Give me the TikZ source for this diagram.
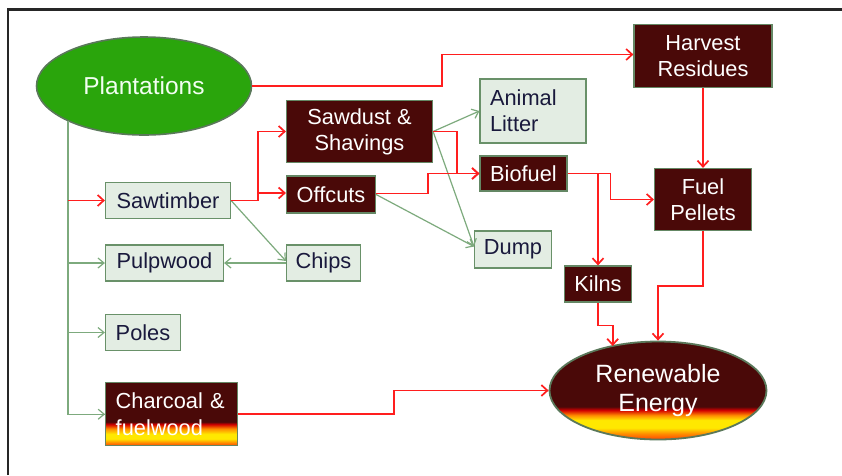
\documentclass[tikz,border=0pt]{standalone}
\usepackage{fontspec}
\setmainfont{Liberation Sans}
\usetikzlibrary{shapes.geometric,arrows.meta,calc}

\definecolor{maroon}{RGB}{74,9,8}
\definecolor{boxborder}{RGB}{100,135,100}
\definecolor{lightfill}{RGB}{227,237,227}
\definecolor{lightborder}{RGB}{105,145,105}
\definecolor{navytext}{RGB}{25,25,60}
\definecolor{plantgreen}{RGB}{42,165,12}
\definecolor{plantborder}{RGB}{90,120,90}
\definecolor{redline}{RGB}{255,30,30}
\definecolor{greenline}{RGB}{125,170,125}
\definecolor{fireDeep}{RGB}{210,0,0}
\definecolor{fireOrange}{RGB}{255,140,0}
\definecolor{fireYellow}{RGB}{255,232,0}
\definecolor{fireBottom}{RGB}{255,70,0}

\pgfdeclareverticalshading{fireCH}{100bp}{color(0bp)=(fireBottom); color(25bp)=(fireBottom); color(27.5bp)=(fireOrange); color(30.5bp)=(fireYellow); color(34.3bp)=(fireYellow); color(38.5bp)=(fireOrange); color(42bp)=(fireDeep); color(44bp)=(maroon); color(100bp)=(maroon)}
\pgfdeclareverticalshading{fireRE}{100bp}{color(0bp)=(fireBottom); color(25bp)=(fireBottom); color(28bp)=(fireOrange); color(31bp)=(fireYellow); color(34.9bp)=(fireYellow); color(37.4bp)=(fireOrange); color(40bp)=(fireDeep); color(41.8bp)=(maroon); color(100bp)=(maroon)}

\tikzset{
  boxfont/.style={font=\fontsize{21.8}{26}\selectfont},
  darkbox/.style={rectangle, fill=maroon, draw=boxborder, line width=1.2pt, text=white, align=center, inner sep=0pt, boxfont},
  lightbox/.style={rectangle, fill=lightfill, draw=lightborder, line width=1.2pt, text=navytext, align=center, inner sep=0pt, boxfont},
  redarrow/.style={draw=redline, line width=1.7pt, -{Straight Barb[length=6pt,width=11pt]}},
  redplain/.style={draw=redline, line width=1.7pt},
  greenarrow/.style={draw=greenline, line width=1.2pt, -{Straight Barb[length=6pt,width=10pt]}},
  greenplain/.style={draw=greenline, line width=1.2pt},
}

\begin{document}
\begin{tikzpicture}[x=1pt,y=-1pt]
\useasboundingbox (0,0) rectangle (842,475);
\fill[white] (0,0) rectangle (842,475);
% frame
\draw[line width=2.2pt, black!85] (8,475) -- (8,9.5) -- (842,9.5);

% nodes
\node[ellipse, fill=plantgreen, draw=plantborder, line width=1.6pt, minimum width=215pt, minimum height=98pt, inner sep=0pt, text=white!95!green, font=\fontsize{24.5}{29}\selectfont] (plant) at (144,86) {Plantations};
\node[darkbox, minimum width=138pt, minimum height=63pt] (harv) at (703,56) {Harvest\\Residues};
\node[darkbox, minimum width=97pt, minimum height=62pt] (fuel) at (703,199.5) {Fuel\\Pellets};
\node[darkbox, minimum width=146pt, minimum height=62pt] (sawd) at (359.5,131.5) {Sawdust \&\\Shavings};
\node[darkbox, minimum width=89pt, minimum height=37pt] (offc) at (331,194.5) {Offcuts};
\node[lightbox, minimum width=106pt, minimum height=64pt, text width=86pt, align=left] (anim) at (533,111) {Animal\\Litter};
\node[darkbox, minimum width=87pt, minimum height=35pt] (bio) at (523.5,173.5) {Biofuel};
\node[lightbox, minimum width=77pt, minimum height=37pt] (dump) at (513,249.5) {Dump};
\node[lightbox, minimum width=74pt, minimum height=36pt] (chips) at (323.5,263) {Chips};
\node[lightbox, minimum width=125pt, minimum height=36pt] (saw) at (168,200.5) {Sawtimber};
\node[lightbox, minimum width=118pt, minimum height=36pt] (pulp) at (164.5,263) {Pulpwood};
\node[lightbox, minimum width=75pt, minimum height=36pt] (poles) at (143,332.5) {Poles};
\node[rectangle, shading=fireCH, draw=boxborder, line width=1.2pt, text=white, inner sep=0pt, minimum width=132pt, minimum height=63pt, text width=112pt, align=left, font=\fontsize{21.8}{27.5}\selectfont] (charc) at (171.7,414.2) {Charcoal \&\\fuelwood};
\node[darkbox, minimum width=67pt, minimum height=36pt] (kilns) at (598,284) {Kilns};
\node[ellipse, shading=fireRE, draw=plantborder, line width=1.8pt, minimum width=217pt, minimum height=98pt, inner sep=0pt, text=white, align=center, font=\fontsize{25}{29}\selectfont] (ren) at (658,390.5) {Renewable\\Energy};

% helper coordinates
\coordinate (trunk) at (68,120.6);
\coordinate (renK) at ($(ren.center)+(-45.3,-44.5)$);

% green connectors
\draw[redplain] (trunk) -- (trunk |- saw.west);
\draw[greenplain] (trunk) |- (charc.west);
\draw[greenarrow] (trunk |- charc.west) -- (charc.west);
\draw[greenarrow] (trunk |- pulp.west) -- (pulp.west);
\draw[greenarrow] (trunk |- poles.west) -- (poles.west);
\draw[greenarrow] (saw.east) -- ($(chips.west)+(0,-2)$);
\draw[greenarrow] (chips.west) -- (pulp.east);
\draw[greenarrow] (sawd.east) -- (anim.west);
\draw[greenarrow] (sawd.east) -- ($(dump.west)+(0,-3)$);
\draw[greenarrow] (offc.east) -- ($(dump.west)+(0,-3)$);

% red connectors
\draw[redarrow] (trunk |- saw.west) -- (saw.west);
\draw[redarrow] (plant.east) -- ++(190,0) |- ($(harv.west)+(0,-1.5)$);
\draw[redarrow] (saw.east) -- ++(27,0) |- (sawd.west);
\draw[redarrow] (saw.east) -- ++(27,0) |- ($(offc.west)+(0,-1.5)$);
\draw[redarrow] (sawd.east) -- ++(24,0) |- (bio.west);
\draw[redarrow] ($(offc.east)+(0,-1)$) -- ++(52,0) |- (bio.west);
\draw[redarrow] (bio.east) -- ++(43,0) |- (fuel.west);
\draw[redarrow] (bio.east -| kilns.north) -- (kilns.north);
\draw[redarrow] (harv.south) -- (fuel.north);
\draw[redarrow] (fuel.south) -- ++(0,55) -| (ren.north);
\draw[redarrow] (kilns.south) -- ++(0,23) -| (renK);
\draw[redarrow] (charc.east) -- ++(155.6,0) |- (ren.west);
\end{tikzpicture}
\end{document}
